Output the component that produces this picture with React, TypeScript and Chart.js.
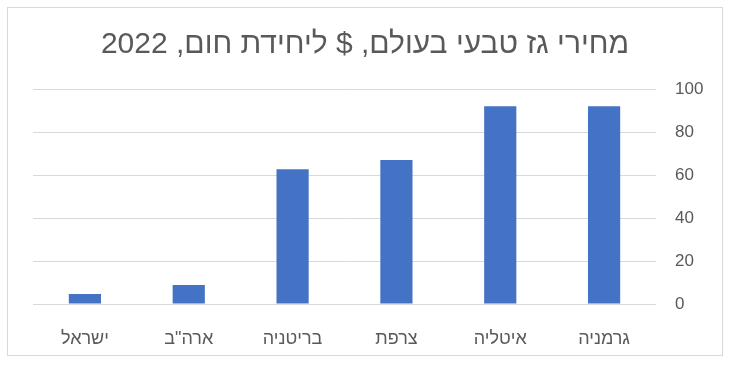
import React, { useEffect, useRef } from "react";
import { Chart, registerables } from "chart.js";

Chart.register(...registerables);

const titleText = "מחירי גז טבעי בעולם, $ ליחידת חום, 2022";
const categories = ["ישראל", 'ארה"ב', "בריטניה", "צרפת", "איטליה", "גרמניה"];
const prices = [4.7, 8.8, 62.7, 67, 92, 92];
const yTicks = [0, 20, 40, 60, 80, 100];

const TEXT = "#595959";
const GRID = "#D9D9D9";
const BAR = "#4472C4";

export default function App() {
  const ref = useRef<HTMLCanvasElement | null>(null);

  useEffect(() => {
    document.body.style.margin = "0";
    const canvas = ref.current;
    if (!canvas) return;

    const framePlugin = {
      id: "frame",
      beforeDraw(chart: any) {
        const ctx = chart.ctx;
        ctx.save();
        ctx.fillStyle = "#ffffff";
        ctx.fillRect(0, 0, chart.width, chart.height);
        ctx.strokeStyle = GRID;
        ctx.lineWidth = 1;
        ctx.strokeRect(7.5, 7.5, 715, 348);
        ctx.restore();
      },
      afterDraw(chart: any) {
        const ctx = chart.ctx;
        ctx.save();
        ctx.fillStyle = TEXT;
        ctx.font = "30px 'Liberation Sans', Arial, sans-serif";
        ctx.textAlign = "center";
        ctx.textBaseline = "alphabetic";
        ctx.direction = "rtl";
        ctx.fillText(titleText, 365, 53);
        ctx.restore();
      },
    };

    const chart = new Chart(canvas, {
      type: "bar",
      data: {
        labels: categories,
        datasets: [
          {
            data: prices,
            backgroundColor: BAR,
            barPercentage: 0.31,
            categoryPercentage: 1,
          },
        ],
      },
      options: {
        responsive: false,
        animation: false,
        devicePixelRatio: 1,
        layout: { padding: { left: 33, top: 89, right: 0, bottom: 0 } },
        plugins: {
          legend: { display: false },
          title: { display: false },
          tooltip: { enabled: false },
        },
        scales: {
          x: {
            grid: { display: false },
            border: { display: false },
            ticks: {
              color: TEXT,
              padding: 16,
              maxRotation: 0,
              font: { family: "'Liberation Sans', Arial, sans-serif", size: 18 },
            },
            afterFit(scale: any) {
              scale.height = 85;
            },
          },
          y: {
            position: "right",
            min: 0,
            max: 100,
            afterBuildTicks(scale: any) {
              scale.ticks = yTicks.map((v) => ({ value: v }));
            },
            grid: { color: GRID, drawTicks: false, lineWidth: 1 },
            border: { display: false },
            ticks: {
              color: TEXT,
              padding: 19,
              font: { family: "'Liberation Sans', Arial, sans-serif", size: 17 },
            },
            afterFit(scale: any) {
              scale.width = 95;
            },
          },
        },
      },
      plugins: [framePlugin],
    } as any);

    return () => chart.destroy();
  }, []);

  return (
    <div style={{ width: 751, height: 389 }}>
      <canvas ref={ref} width={751} height={389} style={{ width: 751, height: 389, display: "block" }} />
    </div>
  );
}
